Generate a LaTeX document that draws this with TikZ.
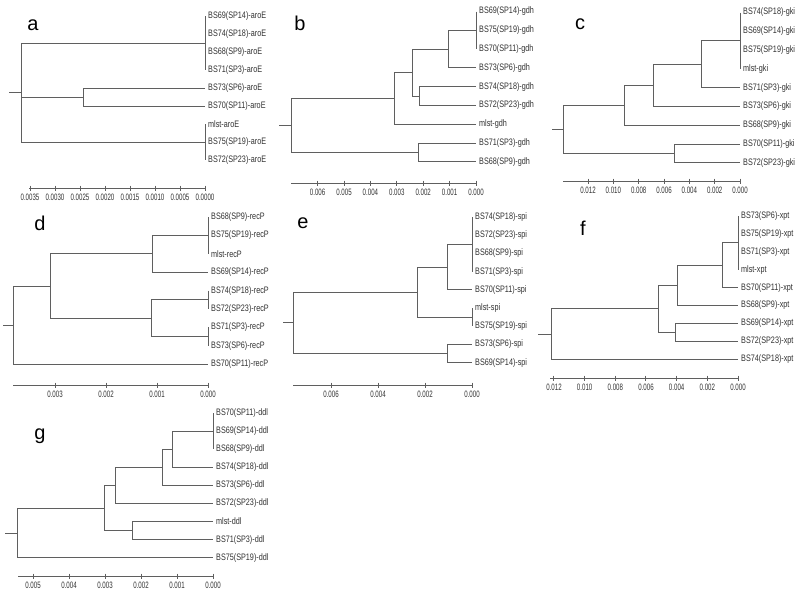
\documentclass[tikz,border=0pt]{standalone}
\usepackage{fontspec}
\setmainfont{Liberation Sans}
\newfontfamily\leaffont[FakeStretch=0.77]{Liberation Sans}
\newfontfamily\tickfont[FakeStretch=0.66]{Liberation Sans}
\definecolor{TreeGray}{RGB}{95,95,95}
\definecolor{TextGray}{RGB}{50,50,50}

\begin{document}
\begin{tikzpicture}[
    x=1pt,y=-1pt,
    branch/.style={draw=TreeGray,line width=1pt},
    leaf/.style={
      anchor=west,inner sep=0pt,xshift=3pt,text=TextGray,
      font=\leaffont\fontsize{9.4}{10}\selectfont
    },
    scalelab/.style={inner sep=0pt,text=TextGray,font=\tickfont\fontsize{9.3}{10}\selectfont},
    panel/.style={anchor=base,inner sep=0pt,text=black,font=\fontsize{20}{22}\selectfont}]
    \useasboundingbox[fill=white] (0,0) rectangle (800,600);

    % a: aroE
    \node[panel] (pa) at (33,30) {a};
    \foreach \lab [count=\i] in {BS69(SP14)-aroE,BS74(SP18)-aroE,BS68(SP9)-aroE,
        BS71(SP3)-aroE,BS73(SP6)-aroE,BS70(SP11)-aroE,mlst-aroE,BS75(SP19)-aroE,BS72(SP23)-aroE}{
      \coordinate (a\i) at (205,{16+18*(\i-1)});
      \node[leaf] (a\i-lab) at (a\i) {\lab};
    }
    \coordinate (a-z1) at (205,43);
    \coordinate (a-z2) at (205,142);
    \coordinate (a-n1) at (83,97);
    \coordinate (a-root) at (21,92.5);
    \coordinate (a-stem) at (9,92.5);
    \draw[branch] (a1) -- (a4) (a7) -- (a9) (a-stem) -- (a-root);
    \draw[branch] (a-root) |- (a-z1) (a-root) |- (a-n1) (a-root) |- (a-z2);
    \draw[branch] (a-n1) |- (a5) (a-n1) |- (a6);
    \draw[branch] (29,188) -- (205,188);
    \foreach \t [count=\k from 0] in {0.0000,0.0005,0.0010,0.0015,0.0020,0.0025,0.0030,0.0035}{
      \draw[branch] ({205-25*\k},185.5) -- ({205-25*\k},190.5);
      \node[scalelab] at ({205-25*\k},197.5) {\t};
    }

    % b: gdh
    \node[panel] (pb) at (300,30.5) {b};
    \foreach \lab [count=\i] in {BS69(SP14)-gdh,BS75(SP19)-gdh,BS70(SP11)-gdh,
        BS73(SP6)-gdh,BS74(SP18)-gdh,BS72(SP23)-gdh,mlst-gdh,BS71(SP3)-gdh,BS68(SP9)-gdh}{
      \coordinate (b\i) at (476,{11.5+18.8*(\i-1)});
      \node[leaf] (b\i-lab) at (b\i) {\lab};
    }
    \coordinate (b-z1) at (476,30.3);
    \coordinate (b-n3) at (448,49.1);
    \coordinate (b-n4) at (419,96.1);
    \coordinate (b-n2) at (412,72.6);
    \coordinate (b-n1) at (394,98.5);
    \coordinate (b-n5) at (418,152.5);
    \coordinate (b-root) at (291,125.5);
    \coordinate (b-stem) at (279,125.5);
    \draw[branch] (b1) -- (b3) (b-stem) -- (b-root);
    \draw[branch] (b-root) |- (b-n1) (b-root) |- (b-n5);
    \draw[branch] (b-n1) |- (b-n2) (b-n1) |- (b7);
    \draw[branch] (b-n2) |- (b-n3) (b-n2) |- (b-n4);
    \draw[branch] (b-n3) |- (b-z1) (b-n3) |- (b4);
    \draw[branch] (b-n4) |- (b5) (b-n4) |- (b6);
    \draw[branch] (b-n5) |- (b8) (b-n5) |- (b9);
    \draw[branch] (291,183) -- (476,183);
    \foreach \t [count=\k from 0] in {0.000,0.001,0.002,0.003,0.004,0.005,0.006}{
      \draw[branch] ({476-26.4*\k},180.5) -- ({476-26.4*\k},185.5);
      \node[scalelab] at ({476-26.4*\k},192.5) {\t};
    }

    % c: gki
    \node[panel] (pc) at (580,29) {c};
    \foreach \lab [count=\i] in {BS74(SP18)-gki,BS69(SP14)-gki,BS75(SP19)-gki,
        mlst-gki,BS71(SP3)-gki,BS73(SP6)-gki,BS68(SP9)-gki,BS70(SP11)-gki,BS72(SP23)-gki}{
      \coordinate (c\i) at (740,{12.5+18.8*(\i-1)});
      \node[leaf] (c\i-lab) at (c\i) {\lab};
    }
    \coordinate (c-z1) at (740,40.7);
    \coordinate (c-n3) at (701,64.2);
    \coordinate (c-n2) at (653,85.4);
    \coordinate (c-n1) at (624,105.3);
    \coordinate (c-n4) at (674,153.5);
    \coordinate (c-root) at (563,129.4);
    \coordinate (c-stem) at (552,129.4);
    \draw[branch] (c1) -- (c4) (c-stem) -- (c-root);
    \draw[branch] (c-root) |- (c-n1) (c-root) |- (c-n4);
    \draw[branch] (c-n1) |- (c-n2) (c-n1) |- (c7);
    \draw[branch] (c-n2) |- (c-n3) (c-n2) |- (c6);
    \draw[branch] (c-n3) |- (c-z1) (c-n3) |- (c5);
    \draw[branch] (c-n4) |- (c8) (c-n4) |- (c9);
    \draw[branch] (563,181) -- (740,181);
    \foreach \t [count=\k from 0] in {0.000,0.002,0.004,0.006,0.008,0.010,0.012}{
      \draw[branch] ({740-25.33*\k},178.5) -- ({740-25.33*\k},183.5);
      \node[scalelab] at ({740-25.33*\k},190.5) {\t};
    }

    % d: recP
    \node[panel] (pd) at (40,230) {d};
    \foreach \lab [count=\i] in {BS68(SP9)-recP,BS75(SP19)-recP,mlst-recP,
        BS69(SP14)-recP,BS74(SP18)-recP,BS72(SP23)-recP,BS71(SP3)-recP,BS73(SP6)-recP,BS70(SP11)-recP}{
      \coordinate (d\i) at (208,{217+18.4*(\i-1)});
      \node[leaf] (d\i-lab) at (d\i) {\lab};
    }
    \coordinate (d-z1) at (208,235.4);
    \coordinate (d-z2) at (208,299.8);
    \coordinate (d-z3) at (208,336.6);
    \coordinate (d-n2) at (152,253.8);
    \coordinate (d-n3) at (151,318.2);
    \coordinate (d-n1) at (50,286);
    \coordinate (d-root) at (13,325.1);
    \coordinate (d-stem) at (3,325.1);
    \draw[branch] (d1) -- (d3) (d5) -- (d6) (d7) -- (d8) (d-stem) -- (d-root);
    \draw[branch] (d-root) |- (d-n1) (d-root) |- (d9);
    \draw[branch] (d-n1) |- (d-n2) (d-n1) |- (d-n3);
    \draw[branch] (d-n2) |- (d-z1) (d-n2) |- (d4);
    \draw[branch] (d-n3) |- (d-z2) (d-n3) |- (d-z3);
    \draw[branch] (13,385) -- (208,385);
    \foreach \t [count=\k from 0] in {0.000,0.001,0.002,0.003}{
      \draw[branch] ({208-51*\k},382.5) -- ({208-51*\k},387.5);
      \node[scalelab] at ({208-51*\k},394.5) {\t};
    }

    % e: spi
    \node[panel] (pe) at (303,228) {e};
    \foreach \lab [count=\i] in {BS74(SP18)-spi,BS72(SP23)-spi,BS68(SP9)-spi,
        BS71(SP3)-spi,BS70(SP11)-spi,mlst-spi,BS75(SP19)-spi,BS73(SP6)-spi,BS69(SP14)-spi}{
      \coordinate (e\i) at (472,{217+18.2*(\i-1)});
      \node[leaf] (e\i-lab) at (e\i) {\lab};
    }
    \coordinate (e-z1) at (472,244.3);
    \coordinate (e-z2) at (472,317.1);
    \coordinate (e-n2) at (447,267);
    \coordinate (e-n1) at (417,292);
    \coordinate (e-n3) at (447,353.5);
    \coordinate (e-root) at (293,322.8);
    \coordinate (e-stem) at (283,322.8);
    \draw[branch] (e1) -- (e4) (e6) -- (e7) (e-stem) -- (e-root);
    \draw[branch] (e-root) |- (e-n1) (e-root) |- (e-n3);
    \draw[branch] (e-n1) |- (e-n2) (e-n1) |- (e-z2);
    \draw[branch] (e-n2) |- (e-z1) (e-n2) |- (e5);
    \draw[branch] (e-n3) |- (e8) (e-n3) |- (e9);
    \draw[branch] (293,385) -- (472,385);
    \foreach \t [count=\k from 0] in {0.000,0.002,0.004,0.006}{
      \draw[branch] ({472-47*\k},382.5) -- ({472-47*\k},387.5);
      \node[scalelab] at ({472-47*\k},394.5) {\t};
    }

    % f: xpt
    \node[panel] (pf) at (583,235) {f};
    \foreach \lab [count=\i] in {BS73(SP6)-xpt,BS75(SP19)-xpt,BS71(SP3)-xpt,
        mlst-xpt,BS70(SP11)-xpt,BS68(SP9)-xpt,BS69(SP14)-xpt,BS72(SP23)-xpt,BS74(SP18)-xpt}{
      \coordinate (f\i) at (738,{216+17.9*(\i-1)});
      \node[leaf] (f\i-lab) at (f\i) {\lab};
    }
    \coordinate (f-z1) at (738,242.9);
    \coordinate (f-n3) at (722,265.3);
    \coordinate (f-n2) at (677,285.4);
    \coordinate (f-n4) at (675,332.4);
    \coordinate (f-n1) at (658,308.9);
    \coordinate (f-root) at (551,334);
    \coordinate (f-stem) at (538,334);
    \draw[branch] (f1) -- (f4) (f-stem) -- (f-root);
    \draw[branch] (f-root) |- (f-n1) (f-root) |- (f9);
    \draw[branch] (f-n1) |- (f-n2) (f-n1) |- (f-n4);
    \draw[branch] (f-n2) |- (f-n3) (f-n2) |- (f6);
    \draw[branch] (f-n3) |- (f-z1) (f-n3) |- (f5);
    \draw[branch] (f-n4) |- (f7) (f-n4) |- (f8);
    \draw[branch] (550,378) -- (738,378);
    \foreach \t [count=\k from 0] in {0.000,0.002,0.004,0.006,0.008,0.010,0.012}{
      \draw[branch] ({738-30.67*\k},375.5) -- ({738-30.67*\k},380.5);
      \node[scalelab] at ({738-30.67*\k},387.5) {\t};
    }

    % g: ddl
    \node[panel] (pg) at (40,439) {g};
    \foreach \lab [count=\i] in {BS70(SP11)-ddl,BS69(SP14)-ddl,BS68(SP9)-ddl,
        BS74(SP18)-ddl,BS73(SP6)-ddl,BS72(SP23)-ddl,mlst-ddl,BS71(SP3)-ddl,BS75(SP19)-ddl}{
      \coordinate (g\i) at (213,{413+18.1*(\i-1)});
      \node[leaf] (g\i-lab) at (g\i) {\lab};
    }
    \coordinate (g-z1) at (213,431.1);
    \coordinate (g-n4) at (172,449.2);
    \coordinate (g-n3) at (162,467.3);
    \coordinate (g-n2) at (115,485.4);
    \coordinate (g-n5) at (132,530.7);
    \coordinate (g-n1) at (104,508);
    \coordinate (g-root) at (17,533);
    \coordinate (g-stem) at (5,533);
    \draw[branch] (g1) -- (g3) (g-stem) -- (g-root);
    \draw[branch] (g-root) |- (g-n1) (g-root) |- (g9);
    \draw[branch] (g-n1) |- (g-n2) (g-n1) |- (g-n5);
    \draw[branch] (g-n2) |- (g-n3) (g-n2) |- (g6);
    \draw[branch] (g-n3) |- (g-n4) (g-n3) |- (g5);
    \draw[branch] (g-n4) |- (g-z1) (g-n4) |- (g4);
    \draw[branch] (g-n5) |- (g7) (g-n5) |- (g8);
    \draw[branch] (18,576) -- (213,576);
    \foreach \t [count=\k from 0] in {0.000,0.001,0.002,0.003,0.004,0.005}{
      \draw[branch] ({213-36*\k},573.5) -- ({213-36*\k},578.5);
      \node[scalelab] at ({213-36*\k},585.5) {\t};
    }
  \end{tikzpicture}
\end{document}
